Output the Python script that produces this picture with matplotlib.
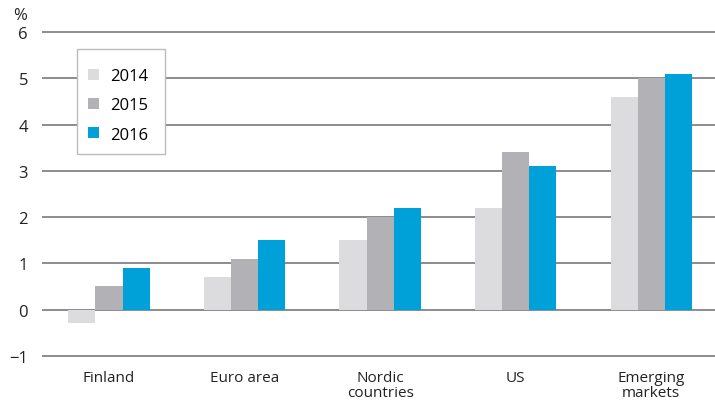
import numpy as np
import matplotlib
matplotlib.use('Agg')
import matplotlib.pyplot as plt
from matplotlib.patches import Patch, Rectangle

plt.rcParams['font.family'] = ['Open Sans', 'DejaVu Sans']

# data
regions = ['Finland', 'Euro area', 'Nordic\ncountries', 'US', 'Emerging\nmarkets']
years = ['2014', '2015', '2016']
v2014 = [-0.3, 0.7, 1.5, 2.2, 4.6]
v2015 = [0.5, 1.1, 2.0, 3.4, 5.0]
v2016 = [0.9, 1.5, 2.2, 3.1, 5.1]
colors = ['#dcdcde', '#b2b2b6', '#00a0d8']

fig = plt.figure(figsize=(7.15, 4.10), dpi=100)
ax = fig.add_axes([42/715, 50/410, 1 - 42/715, 330/410])

x = np.arange(len(regions))
w = 0.2
for i, vals in enumerate([v2014, v2015, v2016]):
    ax.bar(x + (i - 1) * w, vals, width=w, color=colors[i], zorder=3)

ax.set_ylim(-1.07, 6.07)
ax.set_xlim(-0.494, 4.47)
ax.set_yticks(range(-1, 7))
ax.set_yticklabels(['\u22121'] + [str(t) for t in range(0, 7)], fontsize=12, color='#222222')
ax.yaxis.grid(True, color='#6e6e6e', linewidth=1.1, zorder=0)
ax.tick_params(axis='y', length=0, pad=10)
ax.tick_params(axis='x', length=0, pad=8)
ax.set_xticks(x)
ax.set_xticklabels(regions, fontsize=11, color='#222222', linespacing=0.95, va='top')
for s in ax.spines.values():
    s.set_visible(False)

fig.text(20/715, 1 - 16/410, '%', fontsize=12, color='#222222', ha='center', va='center')

# legend box drawn separately so the padding can match
box = Rectangle((77/715, 1 - 155/410), 88/715, 105/410, transform=fig.transFigure,
                facecolor='white', edgecolor='#bcbcbc', linewidth=1.0, zorder=4)
fig.patches.append(box)

handles = [Patch(facecolor=c, edgecolor='none') for c in colors]
leg = fig.legend(handles, years, loc='upper left', bbox_to_anchor=(88/715, 1 - 69/410),
                 fontsize=12, frameon=False,
                 handlelength=0.66, handleheight=0.66, handletextpad=0.66, labelspacing=0.8,
                 borderpad=0, borderaxespad=0)
leg.set_zorder(5)

fig.savefig('out.png', dpi=100, facecolor='white')
